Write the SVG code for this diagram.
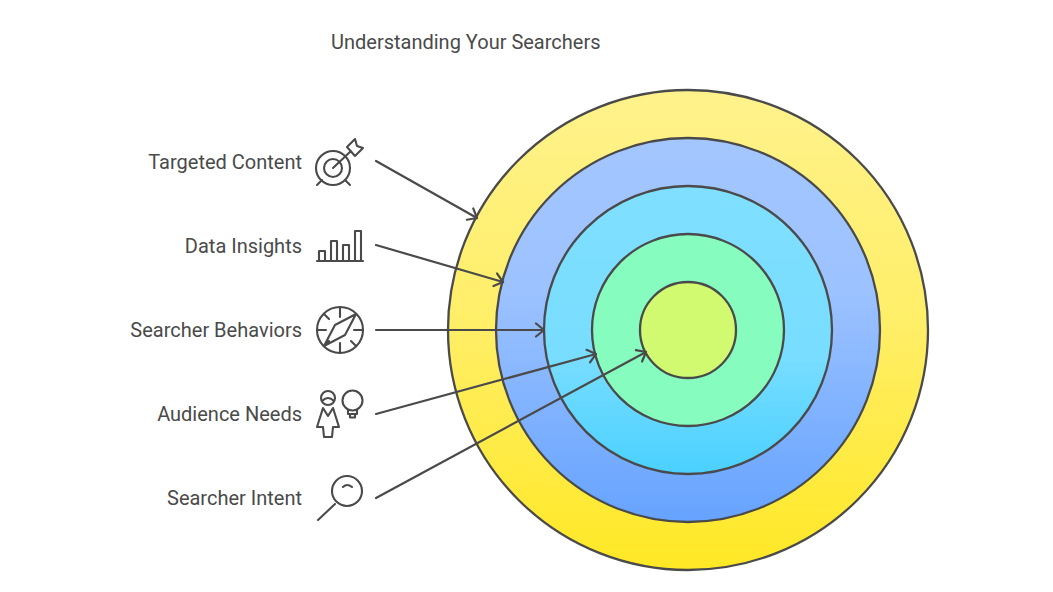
<svg xmlns="http://www.w3.org/2000/svg" width="1053" height="592" viewBox="0 0 1053 592">
<style>
text{font-family:"Roboto","Liberation Sans",sans-serif;font-size:20px;fill:#4a4a4a}
.r{stroke:#4a4a4a;stroke-width:2.3;}
.c{fill:none;stroke:#4a4a4a;stroke-width:2.2;stroke-linecap:round;marker-end:url(#a)}
.i{fill:none;stroke:#4a4a4a;stroke-width:2.1;stroke-linecap:round;stroke-linejoin:round}
</style>
<defs>
<linearGradient id="g1" x1="0" y1="0" x2="0" y2="1"><stop offset="0" stop-color="#FFF28C"/><stop offset="0.5" stop-color="#FFEE66"/><stop offset="1" stop-color="#FFE825"/></linearGradient>
<linearGradient id="g2" x1="0" y1="0" x2="0" y2="1"><stop offset="0" stop-color="#A3C6FF"/><stop offset="0.4" stop-color="#9CC2FF"/><stop offset="1" stop-color="#66A3FF"/></linearGradient>
<linearGradient id="g3" x1="0" y1="0" x2="0" y2="1"><stop offset="0" stop-color="#80DFFF"/><stop offset="0.6" stop-color="#78DDFF"/><stop offset="1" stop-color="#4AD0FF"/></linearGradient>
<marker id="a" viewBox="-10 -8 12 16" markerWidth="12" markerHeight="16" refX="0" refY="0" orient="auto" markerUnits="userSpaceOnUse"><path d="M-8,-6.5 L0,0 L-8,6.5" fill="none" stroke="#4a4a4a" stroke-width="2.2" stroke-linecap="round" stroke-linejoin="round"/></marker>
</defs>
<text x="331" y="49">Understanding Your Searchers</text>
<g id="rings">
<circle class="r" cx="688" cy="330" r="240" fill="url(#g1)"/>
<circle class="r" cx="688" cy="330" r="192" fill="url(#g2)"/>
<circle class="r" cx="688" cy="330" r="144" fill="url(#g3)"/>
<circle class="r" cx="688" cy="330" r="96" fill="#86FDBF"/>
<circle class="r" cx="688" cy="330" r="48" fill="#D1FA70"/>
</g>
<g id="connectors">
<path class="c" d="M376,161 L477,218"/>
<path class="c" d="M376,245 L503,282"/>
<path class="c" d="M376,330 L544,330"/>
<path class="c" d="M376,414 L596,354"/>
<path class="c" d="M376,498 L646,352"/>
</g>
<g id="targeted-content">
<text x="302" y="169" text-anchor="end">Targeted Content</text>
<circle class="i" cx="333" cy="168" r="17"/><circle class="i" cx="333" cy="168" r="9"/>
<path class="i" d="M333,168 L351,151 M347,147 L355,139 L357,146 L363,148 L355,156 Z M317,185 L322,180 M350,185 L345,180"/>
</g>
<g id="data-insights">
<text x="302" y="253" text-anchor="end">Data Insights</text>
<path class="i" d="M317,261 H363 M319,261 V251 H325 V261 M331,261 V241 H337 V261 M343,261 V245 H349 V261 M355,261 V231 H361 V261"/>
</g>
<g id="searcher-behaviors">
<text x="302" y="337" text-anchor="end">Searcher Behaviors</text>
<circle class="i" cx="340" cy="330" r="23"/>
<path class="i" d="M340,307 V317 M340,343 V353 M317,330 H326 M354,330 H363 M324,314 L329,319 M351,341 L356,346 M324,346 L329,341 M356,314 L335,325 L324,346 L345,335 Z"/>
</g>
<g id="audience-needs">
<text x="302" y="421" text-anchor="end">Audience Needs</text>
<circle class="i" cx="328" cy="398" r="7"/>
<path class="i" d="M322,401 Q328,395 334,401 M323,408 L328,416 L333,408 L339,427 H333 L332,437 H324 L323,427 H317 Z"/>
<circle class="i" cx="352.5" cy="400.5" r="10"/>
<path class="i" d="M348,410 V414 H357 V410 M350,414 V417.5 H355 V414"/>
</g>
<g id="searcher-intent">
<text x="302" y="505" text-anchor="end">Searcher Intent</text>
<circle class="i" cx="347" cy="491" r="15"/>
<path class="i" d="M335,504 L318,520 M343,487 Q347,483 352,487"/>
</g>
</svg>
